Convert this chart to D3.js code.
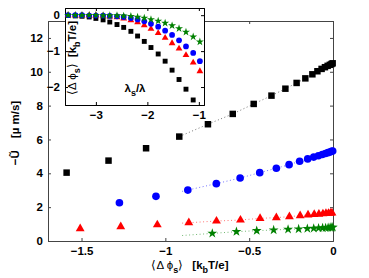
<!DOCTYPE html>
<html>
<head>
<meta charset="utf-8">
<script src="https://cdn.jsdelivr.net/npm/d3@7"></script>
<style>
  body { margin: 0; background: #fff; }
  text { font-family: "Liberation Sans", Arial, sans-serif; font-weight: bold; }
</style>
</head>
<body>
<script>
// main plot: -U vs <dphi_s>, inset: <dphi_s> vs lambda_s/lambda

var blackX = [-1.589,-1.339,-1.115,-0.917,-0.746,-0.598,-0.473,-0.367,-0.284,-0.217,-0.165,-0.123,-0.093,-0.068,-0.048,-0.032,-0.019,-0.009,-0.002];
var blackY = [4.04,4.75,5.48,6.17,6.90,7.51,8.10,8.59,9.00,9.34,9.61,9.85,10.03,10.17,10.27,10.35,10.41,10.46,10.50];
var blueX = [-1.274,-1.056,-0.866,-0.696,-0.554,-0.437,-0.338,-0.262,-0.199,-0.151,-0.115,-0.087,-0.064,-0.045,-0.030,-0.018,-0.008,-0.002];
var blueY = [2.26,2.64,3.01,3.39,3.72,4.04,4.30,4.51,4.71,4.85,4.96,5.04,5.11,5.17,5.22,5.26,5.30,5.32];
var redX = [-1.508,-1.266,-1.048,-0.860,-0.695,-0.552,-0.435,-0.338,-0.260,-0.196,-0.149,-0.112,-0.084,-0.060,-0.042,-0.027,-0.015,-0.006];
var redY = [0.73,0.85,0.96,1.08,1.18,1.24,1.34,1.38,1.44,1.50,1.54,1.57,1.59,1.61,1.63,1.64,1.65,1.66];
var greenX = [-0.720,-0.576,-0.455,-0.354,-0.268,-0.205,-0.153,-0.115,-0.086,-0.062,-0.044,-0.029,-0.017,-0.007,-0.001];
var greenY = [0.45,0.55,0.61,0.65,0.69,0.71,0.73,0.75,0.76,0.77,0.78,0.79,0.80,0.80,0.81];

// inset
var insetX = [-3.54,-3.40,-3.27,-3.13,-3.00,-2.86,-2.73,-2.59,-2.46,-2.32,-2.19,-2.06,-1.93,-1.79,-1.655,-1.52,-1.385,-1.25,-1.11,-0.98];
var insetBlack = [-0.01,-0.02,-0.03,-0.05,-0.09,-0.13,-0.19,-0.26,-0.34,-0.45,-0.58,-0.73,-0.90,-1.08,-1.28,-1.53,-1.79,-2.06,-2.36,-2.70];
var insetRed = [0,-0.01,-0.01,-0.01,-0.01,-0.02,-0.04,-0.06,-0.09,-0.14,-0.20,-0.28,-0.38,-0.50,-0.63,-0.78,-0.93,-1.11,-1.32,-1.56];
var insetBlue = [0,0,0,-0.01,-0.01,-0.01,-0.02,-0.03,-0.05,-0.08,-0.12,-0.17,-0.24,-0.32,-0.43,-0.55,-0.70,-0.87,-1.05,-1.28];
var insetGreen = [0,0,0,0,0,-0.01,-0.01,-0.01,-0.02,-0.03,-0.05,-0.08,-0.12,-0.16,-0.22,-0.29,-0.37,-0.47,-0.60,-0.74];

var xTicks = [-1.5, -1, -0.5, 0];
var yTicks = [0, 2, 4, 6, 8, 10, 12];
var ixTicks = [-3, -2, -1];
var iyTicks = [0, -1, -2];

var W = 369, H = 278;
var svg = d3.select("body").append("svg").attr("width", W).attr("height", H);

var x = d3.scaleLinear().domain([-1.7, 0]).range([48, 333]);
var y = d3.scaleLinear().domain([0, 13]).range([241, 21]);
var ix = d3.scaleLinear().domain([-3.6, -0.9]).range([65, 204]);
var iy = d3.scaleLinear().domain([-2.5, 0.2]).range([105, 8]);

var fmt = function(d) { return d === 0 ? "0" : String(d).replace("-", "\u2212"); };

function box(g, sx, sy, xt, yt, axisColor) {
  var x0 = sx.range()[0], x1 = sx.range()[1], y0 = sy.range()[0], y1 = sy.range()[1];
  g.append("g").attr("transform", "translate(0," + y0 + ")")
    .call(d3.axisBottom(sx).tickValues(xt).tickSize(-3).tickPadding(6).tickFormat(fmt));
  g.append("g").attr("transform", "translate(0," + y1 + ")")
    .call(d3.axisTop(sx).tickValues(xt).tickSize(-3).tickFormat(""));
  g.append("g").attr("transform", "translate(" + x0 + ",0)")
    .call(d3.axisLeft(sy).tickValues(yt).tickSize(-3).tickPadding(5).tickFormat(fmt));
  g.append("g").attr("transform", "translate(" + x1 + ",0)")
    .call(d3.axisRight(sy).tickValues(yt).tickSize(-3).tickFormat(""));
  g.selectAll(".domain").attr("stroke", axisColor);
  g.selectAll(".tick line").attr("stroke", axisColor);
  g.selectAll(".tick text").attr("fill", "#000").style("font-size", "11.5px")
    .style("font-family", "Liberation Sans, Arial, sans-serif").style("font-weight", "bold");
}

function zip(a, b) { return a.map(function(v, i) { return [v, b[i]]; }); }

var series = [
  {x: blackX, y: blackY, color: "#000000", sym: d3.symbolSquare, size: 42},
  {x: blueX, y: blueY, color: "#0000ff", sym: d3.symbolCircle, size: 46},
  {x: redX, y: redY, color: "#ff0000", sym: d3.symbolTriangle, size: 34},
  {x: greenX, y: greenY, color: "#008000", sym: d3.symbolStar, size: 30}
];

// main axes
var main = svg.append("g");
box(main, x, y, xTicks, yTicks, "#444");

var line = d3.line().x(function(d) { return x(d[0]); }).y(function(d) { return y(d[1]); });

series.forEach(function(s) {
  var pts = zip(s.x, s.y).filter(function(p) { return p[0] > -0.95; });
  if (pts[0][0] > -0.9) {
    var k = (pts[1][1] - pts[0][1]) / (pts[1][0] - pts[0][0]);
    pts.unshift([-0.9, pts[0][1] - k * (pts[0][0] + 0.9)]);
  }
  main.append("path").attr("d", line(pts)).attr("fill", "none")
    .attr("stroke", s.color).attr("stroke-opacity", 0.55)
    .attr("stroke-width", 1).attr("stroke-dasharray", "1,2.5");
});

series.forEach(function(s) {
  main.selectAll(null).data(zip(s.x, s.y)).enter().append("path")
    .attr("transform", function(d) { return "translate(" + x(d[0]) + "," + y(d[1]) + ")"; })
    .attr("d", d3.symbol().type(s.sym).size(s.size))
    .attr("fill", s.color);
});

// axis labels
var xl = svg.append("text").attr("x", 190).attr("y", 269).attr("text-anchor", "middle")
  .style("font-size", "11.5px");
xl.append("tspan").text("\u27E8\u0394 \u03D5").style("font-weight", "normal");
xl.append("tspan").text("s").attr("dy", 4).style("font-size", "9px");
xl.append("tspan").text("\u27E9").attr("dy", -4).style("font-weight", "normal");
xl.append("tspan").text("  [k").attr("dx", 6);
xl.append("tspan").text("b").attr("dy", 4).style("font-size", "9px");
xl.append("tspan").text("T/e]").attr("dy", -4);

var yl = svg.append("text").attr("transform", "translate(19,133) rotate(-90)")
  .attr("text-anchor", "middle").style("font-size", "11.5px");
yl.append("tspan").text("\u2212\u0168");
yl.append("tspan").text("[\u00B5 m/s]").attr("dx", 12);

// inset
var inset = svg.append("g");
inset.append("rect").attr("x", 65).attr("y", 8).attr("width", 139).attr("height", 97).attr("fill", "#fff");
box(inset, ix, iy, ixTicks, iyTicks, "#000");

var iseries = [
  {y: insetBlack, color: "#000000", sym: d3.symbolSquare, size: 24},
  {y: insetRed, color: "#ff0000", sym: d3.symbolTriangle, size: 20},
  {y: insetBlue, color: "#0000ff", sym: d3.symbolCircle, size: 26},
  {y: insetGreen, color: "#008000", sym: d3.symbolStar, size: 20}
];

iseries.forEach(function(s) {
  inset.selectAll(null).data(zip(insetX, s.y).filter(function(d) { return d[1] >= -2.5; }))
    .enter().append("path")
    .attr("transform", function(d) { return "translate(" + ix(d[0]) + "," + iy(d[1]) + ")"; })
    .attr("d", d3.symbol().type(s.sym).size(s.size))
    .attr("fill", s.color);
});

var il = inset.append("text").attr("x", 135).attr("y", 92).attr("text-anchor", "middle")
  .style("font-size", "11.5px");
il.append("tspan").text("\u03BB");
il.append("tspan").text("s").attr("dy", 4).style("font-size", "9px");
il.append("tspan").text("/\u03BB").attr("dy", -4);

var iyl = inset.append("text").attr("transform", "translate(76,58) rotate(-90)")
  .attr("text-anchor", "middle").style("font-size", "11.5px");
iyl.append("tspan").text("\u27E8\u0394 \u03D5").style("font-weight", "normal");
iyl.append("tspan").text("s").attr("dy", 4).style("font-size", "9px");
iyl.append("tspan").text("\u27E9").attr("dy", -4).style("font-weight", "normal");
iyl.append("tspan").text(" [k").attr("dx", 3);
iyl.append("tspan").text("b").attr("dy", 4).style("font-size", "9px");
iyl.append("tspan").text("T/e]").attr("dy", -4);
</script>
</body>
</html>
